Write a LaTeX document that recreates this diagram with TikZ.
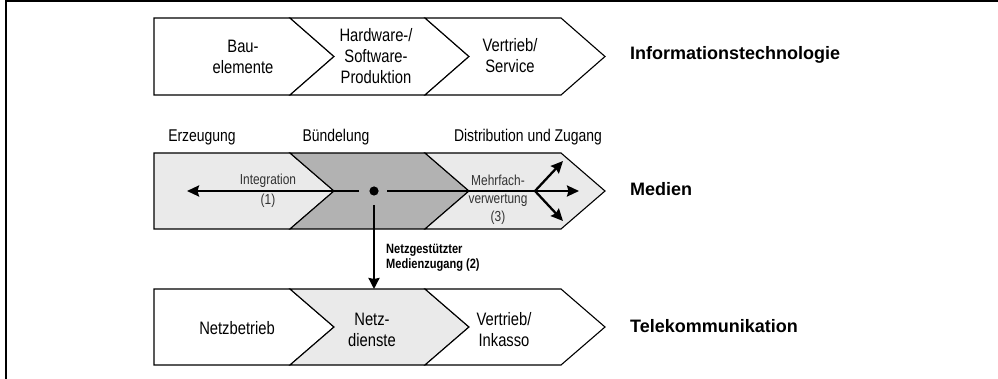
\documentclass[tikz,border=0pt]{standalone}
\usepackage{fontspec}
\setmainfont{Liberation Sans}
\newfontfamily\nar[FakeStretch=0.82]{Liberation Sans}
\usetikzlibrary{arrows.meta}
\definecolor{lightg}{RGB}{234,234,234}
\definecolor{darkg}{RGB}{178,178,178}
\definecolor{txtg}{RGB}{50,50,50}
\begin{document}
\begin{tikzpicture}[x=1pt,y=-1pt,
  seg/.style={draw=black,line width=1.1pt,line join=miter},
  lab/.style={inner sep=0pt,align=center,font=\nar\fontsize{18}{21}\selectfont},
  head/.style={inner sep=0pt,align=center,font=\nar\fontsize{17}{20}\selectfont},
  small/.style={inner sep=0pt,align=center,text=txtg,font=\nar\fontsize{14.5}{18}\selectfont},
  sector/.style={inner sep=0pt,anchor=west,font=\bfseries\fontsize{18}{21}\selectfont},
  flow/.style={line width=2.3pt,-{Stealth[length=12pt,width=11pt,inset=1.5pt]}}]
\useasboundingbox (0,0) rectangle (998,379);
% frame
\draw[line width=1.5pt] (998,1) -- (6,1) -- (6,379);

% ---- top row: Informationstechnologie
\draw[seg,fill=white] (154,18) -- (290,18) -- (334,56.5) -- (290,95) -- (154,95) -- cycle;
\draw[seg,fill=white] (290,18) -- (425,18) -- (469,56.5) -- (425,95) -- (290,95) -- (334,56.5) -- cycle;
\draw[seg,fill=white] (425,18) -- (561,18) -- (605,56.5) -- (561,95) -- (425,95) -- (469,56.5) -- cycle;
\node[lab] (it1) at (243,57) {Bau-\\elemente};
\node[lab] (it2) at (376,56) {Hardware-/\\Software-\\Produktion};
\node[lab] (it3) at (510,56) {Vertrieb/\\Service};
\node[sector] (itl) at (630,55) {Informationstechnologie};

% ---- middle row: Medien
\node[head] (h1) at (202,137) {Erzeugung};
\node[head] (h2) at (336,137) {Bündelung};
\node[head] (h3) at (528,137) {Distribution und Zugang};
\draw[seg,fill=lightg] (154,153) -- (290,153) -- (334,191) -- (290,229) -- (154,229) -- cycle;
\draw[seg,fill=darkg] (290,153) -- (425,153) -- (469,191) -- (425,229) -- (290,229) -- (334,191) -- cycle;
\draw[seg,fill=lightg] (425,153) -- (561,153) -- (605,191) -- (561,229) -- (425,229) -- (469,191) -- cycle;
\node[sector] (mel) at (630,189) {Medien};

\node[small] (integ) at (268,191) {Integration\\[2pt](1)};
\node[small] (mehr) at (498,200) {Mehrfach-\\verwertung\\(3)};

\fill (374,191) circle (4.6pt);
\coordinate (dotc) at (374,191);
\coordinate (lstart) at (359,191);
\coordinate (lend) at (187,191);
\coordinate (rstart) at (387,191);
\coordinate (br) at (535,191);
\coordinate (bup) at (563,161);
\coordinate (bmid) at (579,191);
\coordinate (bdn) at (563,221);
\coordinate (vstart) at (374,205);

\draw[flow] (lstart) -- (lend);
\draw[line width=2.3pt] (rstart) -- (br);
\draw[flow] (br) -- (bup);
\draw[flow] (br) -- (bmid);
\draw[flow] (br) -- (bdn);

% ---- bottom row: Telekommunikation
\draw[seg,fill=white] (154,289) -- (290,289) -- (334,327) -- (290,365) -- (154,365) -- cycle;
\draw[seg,fill=lightg] (290,289) -- (425,289) -- (469,327) -- (425,365) -- (290,365) -- (334,327) -- cycle;
\draw[seg,fill=white] (425,289) -- (561,289) -- (605,327) -- (561,365) -- (425,365) -- (469,327) -- cycle;
\node[lab] (tk1) at (237,328) {Netzbetrieb};
\node[lab] (tk2) at (372,330) {Netz-\\dienste};
\node[lab] (tk3) at (504,330) {Vertrieb/\\Inkasso};
\node[sector] (tkl) at (630,326) {Telekommunikation};

\coordinate (vend) at (374,289);
\draw[line width=2.3pt,-{Stealth[length=11pt,width=11pt,inset=1pt]}] (vstart) -- (vend);
\node[inner sep=0pt,anchor=north west,align=left,font=\nar\bfseries\fontsize{13.5}{15}\selectfont] (netz) at (386,244) {Netzgestützter\\Medienzugang (2)};
\end{tikzpicture}
\end{document}
